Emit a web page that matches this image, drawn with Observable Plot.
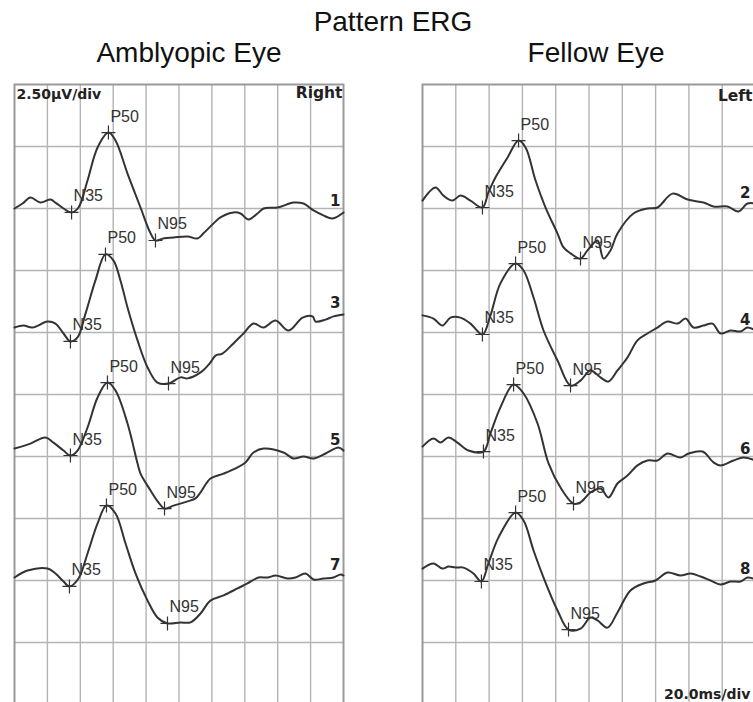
<!DOCTYPE html>
<html><head><meta charset="utf-8">
<script src="https://cdn.jsdelivr.net/npm/d3@7"></script>
<script src="https://cdn.jsdelivr.net/npm/@observablehq/plot@0.6"></script>
<style>
html,body{margin:0;padding:0;overflow:hidden;background:#fff;}
#wrap{position:relative;width:753px;height:702px;overflow:hidden;background:#fff;}
.title{position:absolute;width:400px;text-align:center;font-family:"Liberation Sans",Arial,sans-serif;font-size:28px;line-height:28px;color:#111;white-space:nowrap;}
.panel{position:absolute;}
.panel svg{max-width:none !important;display:block;}
</style></head><body>
<div id="wrap">
  <div class="title" style="left:193px;top:8px">Pattern ERG</div>
  <div class="title" style="left:-11px;top:39px">Amblyopic Eye</div>
  <div class="title" style="left:396px;top:39px">Fellow Eye</div>
  <div class="panel" id="left" style="left:0px;top:82px;width:353px"></div>
  <div class="panel" id="right" style="left:420px;top:82px;width:337px"></div>
</div>
<script>
// ---- data: time (ms), amplitude (µV) relative to each trace's baseline ----
const trace1 = [[0,0],[4.9,0.2],[9.7,0.44],[15.8,0.24],[21.9,0.36],[24.9,0.24],[29.8,0],[34.7,-0.16],[38.9,0.04],[44.4,1.13],[50.5,2.46],[57.1,3.06],[61.4,2.74],[68.7,1.41],[76.6,0.04],[82.7,-1.0],[85.7,-1.29],[91,-1.2],[96.7,-1.17],[105.2,-1.13],[111.2,-1.21],[114.9,-1.0],[121,-0.6],[125.2,-0.36],[133.1,-0.16],[137.4,-0.2],[142.2,-0.44],[147.7,-0.2],[151.4,0],[159.9,0.04],[169.6,0.24],[175.7,0.2],[181.8,-0.08],[187.8,-0.28],[193.3,-0.4],[200,-0.16]];
const trace3 = [[0,0.2],[5.5,0.28],[10.9,0.2],[20.1,0.44],[24.9,0.36],[29.8,-0.04],[34.0,-0.36],[38.3,-0.2],[43.2,0.77],[49.2,2.1],[55.3,3.15],[60.2,2.9],[64.4,2.1],[68.7,1.01],[74.8,-0.32],[80.9,-1.41],[86.9,-2.02],[93.6,-2.06],[100.9,-1.81],[105.2,-1.85],[113.1,-1.61],[119.1,-1.21],[122.2,-0.93],[126.4,-0.85],[133.1,-0.44],[139.2,-0.04],[145.3,0.36],[151.4,0.2],[158.7,0.48],[166.6,0.08],[175.1,0.6],[181.2,0.65],[183,0.44],[189.1,0.52],[193.9,0.65],[200,0.73]];
const trace5 = [[0,0.32],[9.7,0.52],[18.8,0.77],[23.7,0.56],[29.8,0.24],[34.0,0.04],[38.3,0.24],[44.4,1.17],[50.5,2.38],[56.5,2.98],[61.4,2.66],[68.7,1.33],[74.8,-0.28],[76.6,-0.69],[82.7,-1.37],[87.5,-1.85],[91.2,-2.1],[96.7,-1.98],[105.2,-1.81],[110,-1.69],[113.1,-1.45],[119.1,-0.89],[127.1,-0.69],[135.6,-0.44],[140.4,-0.24],[145.3,0.16],[151.4,0.32],[163.5,0.16],[169.6,-0.08],[175.7,0],[181.8,-0.08],[189.1,0.12],[197,0.36],[200,0.24]];
const trace7 = [[0,0.12],[7.9,0.4],[20.1,0.48],[24.9,0.28],[29.8,-0.04],[33.4,-0.24],[38.9,0.08],[44.4,1.09],[50.5,2.3],[55.9,3.02],[61.4,2.7],[67.5,1.49],[73.6,0.28],[80.9,-0.81],[86.9,-1.49],[93,-1.73],[100.9,-1.69],[107,-1.69],[113.1,-1.33],[119.1,-0.81],[127.1,-0.6],[135.6,-0.32],[141.6,-0.12],[148.3,0.12],[153.8,0.12],[158.7,0.2],[166,0.08],[170.8,0.12],[176.9,0.28],[181.8,0.04],[187.8,0.08],[193.9,0.12],[198.2,0.24],[200,0.2]];
const trace2 = [[0,0.32],[7.8,0.85],[12.6,0.52],[18,0.32],[22.8,0.52],[28.8,0.32],[36,0.04],[39.6,0.65],[43.8,1.25],[51.1,2.06],[57.7,2.74],[61.9,2.46],[67.9,1.13],[73.9,0.04],[81.1,-1.01],[84.7,-1.57],[88.9,-1.81],[94.9,-2.02],[99.1,-1.69],[105.1,-1.29],[108.7,-2.02],[112.9,-1.69],[117.1,-1.01],[126.7,-0.2],[135.1,0],[141.1,0.04],[150.2,0.6],[159.2,0.36],[168.8,0.24],[174.8,0.08],[183.2,0.08],[189.8,-0.12],[195.2,0.2],[200,0.2]];
const trace4 = [[0,0.69],[6.6,0.56],[12,0.28],[16.8,0.6],[22.8,0.6],[28.8,0.36],[36,-0.08],[40.8,0.69],[46.8,1.98],[55.9,2.78],[60.7,2.5],[66.7,1.41],[72.7,0.08],[81.1,-1.13],[88.9,-2.14],[94.9,-1.94],[100.9,-1.53],[106.9,-1.81],[111.7,-1.98],[117.1,-1.53],[123.1,-1.01],[129.1,-0.32],[135.1,-0.04],[141.1,0.2],[147.1,0.44],[153.2,0.36],[158,0.56],[162.8,0.2],[168.8,0.28],[174.2,0.36],[179,-0.04],[185,0.08],[191,0.04],[195.2,0.2],[200,0.08]];
const trace6 = [[0,0.4],[6.6,0.73],[10.8,0.56],[15.6,0.77],[21,0.56],[27.6,0.24],[36.6,0.2],[40.8,0.93],[46.8,1.98],[54.7,2.9],[60.7,2.54],[69.1,1.33],[75.7,-0.28],[82.9,-1.25],[90.7,-1.9],[94.9,-1.85],[100.9,-1.45],[106.9,-1.29],[111.7,-1.65],[117.1,-1.09],[123.1,-0.77],[129.1,-0.36],[135.1,-0.16],[141.1,-0.16],[147.1,0.12],[155,-0.04],[159.8,0.12],[168.2,0.2],[174.8,-0.24],[179,-0.36],[186.8,-0.16],[192.8,-0.04],[200,-0.16]];
const trace8 = [[0,0.48],[6.6,0.69],[12,0.48],[15.6,0.56],[19.8,0.52],[24.6,0.52],[30.6,0.28],[35.4,-0.04],[39.6,0.69],[45.6,1.73],[55.9,2.74],[60.7,2.42],[66.7,1.21],[72.7,0.12],[81.1,-1.21],[87.7,-1.98],[94.9,-1.94],[100.9,-1.49],[105.1,-1.61],[111.1,-1.9],[117.1,-1.29],[124.9,-0.4],[132.7,-0.12],[139.9,0],[147.1,0.32],[155,0.2],[161,0.28],[167,0.16],[173,0],[179,-0.16],[185,-0.04],[191,-0.04],[195.2,0.12],[200,0.04]];

// peak markers: [time ms, amplitude µV] for N35, P50, N95
const peakNames = ["N35", "P50", "N95"];
const peaks1 = [[34.7,-0.16],[57.1,3.06],[85.7,-1.29]];
const peaks3 = [[34.0,-0.36],[55.3,3.15],[93.6,-2.06]];
const peaks5 = [[34.0,0.04],[56.5,2.98],[91.2,-2.1]];
const peaks7 = [[33.4,-0.24],[55.9,3.02],[93,-1.73]];
const peaks2 = [[36,0.04],[57.7,2.74],[94.9,-2.02]];
const peaks4 = [[36,-0.08],[55.9,2.78],[88.9,-2.14]];
const peaks6 = [[36.6,0.2],[54.7,2.9],[90.7,-1.9]];
const peaks8 = [[35.4,-0.04],[55.9,2.74],[87.7,-1.98]];

const leftIds = ["1", "3", "5", "7"];
const rightIds = ["2", "4", "6", "8"];
const baselineUv = [20, 15, 10, 5];        // display baseline of each trace (µV, 0 = bottom)
const gridTimesMs = [20, 40, 60, 80, 100, 120, 140, 160, 180];
const gridUv = [2.5, 5, 7.5, 10, 12.5, 15, 17.5, 20, 22.5];
const timeDomain = [0, 200];
const uvDomain = [0, 25];
const gainLabel = "2.50µV/div";
const sweepLabel = "20.0ms/div";
const sideLabels = ["Right", "Left"];

// thin "+" cross symbol
const crossSymbol = {
  draw(ctx, size) {
    const r = Math.sqrt(size / Math.PI);
    ctx.moveTo(-r, 0); ctx.lineTo(r, 0);
    ctx.moveTo(0, -r); ctx.lineTo(0, r);
  }
};

function panel(traces, ids, peakSets, opts) {
  const rows = [], marks = [], ends = [];
  traces.forEach((tr, i) => {
    tr.forEach(([t, a]) => rows.push({id: ids[i], t, v: baselineUv[i] + a}));
    const last = tr[tr.length - 1];
    ends.push({id: ids[i], t: last[0], v: baselineUv[i] + last[1]});
    peakSets[i].forEach(([t, a], k) => marks.push({name: peakNames[k], t, v: baselineUv[i] + a}));
  });
  const labFont = "'Liberation Sans', Arial, sans-serif";
  const boldFont = "'DejaVu Sans', Verdana, sans-serif";
  const m = [
    Plot.ruleX(gridTimesMs, {stroke: "#b4b4b4", strokeWidth: 1.4}),
    Plot.ruleY(gridUv, {stroke: "#b4b4b4", strokeWidth: 1.4}),
    Plot.frame({stroke: "#9a9a9a", strokeWidth: 2}),
    Plot.line(rows, {x: "t", y: "v", z: "id", curve: "catmull-rom", stroke: "#333", strokeWidth: 2}),
    Plot.dot(marks, {x: "t", y: "v", symbol: crossSymbol, r: 7, stroke: "#333", strokeWidth: 1.2, fill: "none"}),
    Plot.text(marks, {x: "t", y: "v", text: "name", textAnchor: "start", lineAnchor: "bottom", dx: 2, dy: -11, fontSize: 16, fontFamily: labFont, fill: "#333"}),
    Plot.text(ends, {x: "t", y: "v", text: "id", textAnchor: "end", lineAnchor: "bottom", dx: opts.numDx, dy: -6, fontSize: 15, fontWeight: "bold", fontFamily: boldFont, fill: "#222"}),
    Plot.text([opts.side], {text: d => d, frameAnchor: "top-right", textAnchor: "end", lineAnchor: "bottom", dx: opts.sideDx, dy: opts.sideDy, fontSize: 15.5, fontWeight: "bold", fontFamily: boldFont, fill: "#222"})
  ];
  if (opts.gain) m.push(Plot.text([opts.gain], {text: d => d, frameAnchor: "top-left", textAnchor: "start", lineAnchor: "bottom", dx: 2, dy: 14, fontSize: 14, fontWeight: "bold", fontFamily: boldFont, fill: "#222"}));
  if (opts.sweep) m.push(Plot.text([opts.sweep], {text: d => d, frameAnchor: "bottom-right", textAnchor: "end", lineAnchor: "bottom", dx: -5, dy: -6, fontSize: 14, fontWeight: "bold", fontFamily: boldFont, fill: "#222"}));
  const svg = Plot.plot({
    width: opts.width, height: 624,
    marginLeft: opts.ml, marginRight: opts.mr, marginTop: 2, marginBottom: 2,
    x: {domain: timeDomain, axis: null},
    y: {domain: uvDomain, axis: null},
    style: {background: "transparent", overflow: "visible"},
    marks: m
  });
  return svg;
}

document.getElementById("left").append(panel([trace1, trace3, trace5, trace7], leftIds,
  [peaks1, peaks3, peaks5, peaks7],
  {width: 353, ml: 14, mr: 10, numDx: -3, side: sideLabels[0], sideDx: -1, sideDy: 13, gain: gainLabel}));
document.getElementById("right").append(panel([trace2, trace4, trace6, trace8], rightIds,
  [peaks2, peaks4, peaks6, peaks8],
  {width: 337, ml: 2, mr: 2, numDx: -5, side: sideLabels[1], sideDx: -3, sideDy: 16, sweep: sweepLabel}));
</script>
</body></html>
